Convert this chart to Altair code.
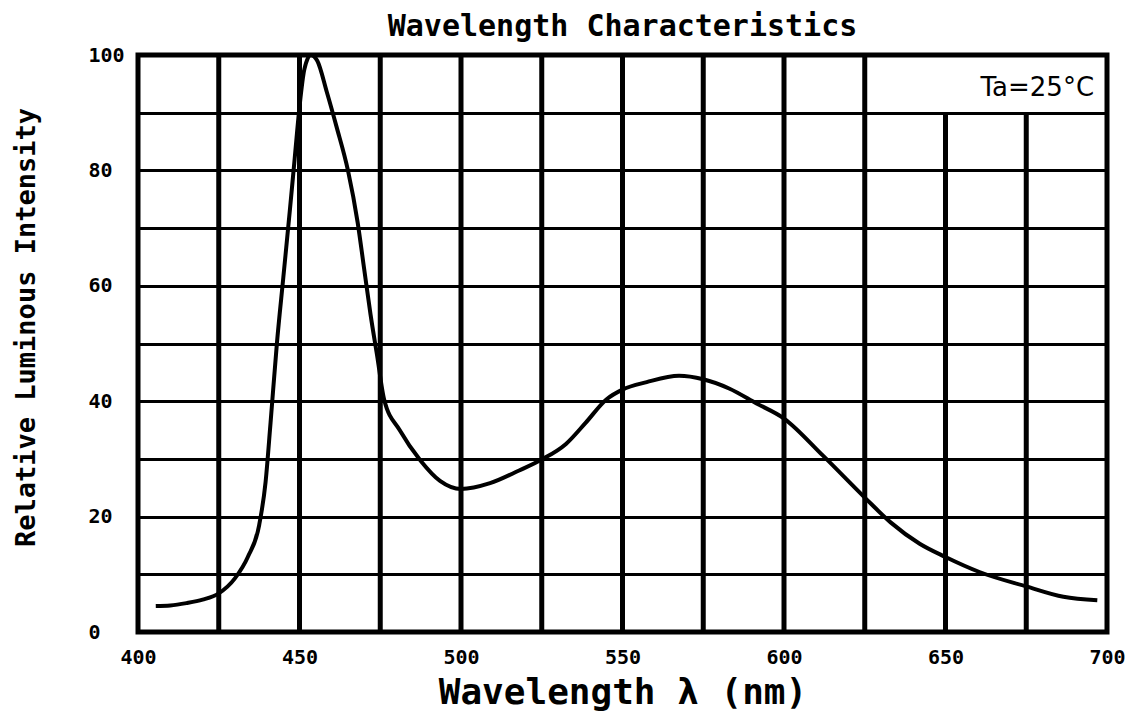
import altair as alt
import pandas as pd

# ---- data ----
wavelength = [405.5, 410, 415, 420, 425, 430, 434, 437.5, 439.5, 441, 443, 445, 447,
              448.5, 450, 451.5, 453.5, 455.5, 458.5, 461.5, 465, 468, 470, 472, 474,
              476.2, 481, 487.5, 493.5, 500, 509, 518, 525, 532.5, 538.5, 545, 550,
              557.5, 567.5, 575, 583, 591.5, 600, 612, 625, 633, 642, 650, 660.5, 675,
              686.5, 697]
intensity = [4.5, 4.6, 5.0, 5.6, 6.7, 9.3, 13.0, 18.5, 26.0, 36.0, 50.0, 61.5, 73.0,
             82.0, 91.0, 97.5, 100.0, 99.0, 93.5, 87.5, 80.0, 71.0, 63.0, 55.0, 48.0,
             40.3, 35.0, 29.7, 26.2, 24.8, 25.8, 28.0, 29.9, 32.6, 36.2, 40.3, 42.0,
             43.3, 44.4, 43.8, 42.2, 39.6, 37.0, 30.6, 23.3, 19.0, 15.3, 13.0, 10.4, 7.9,
             6.1, 5.5]
x_ticks = [400, 425, 450, 475, 500, 525, 550, 575, 600, 625, 650, 675, 700]
x_labels = [400, 450, 500, 550, 600, 650, 700]
y_ticks = [0, 10, 20, 30, 40, 50, 60, 70, 80, 90, 100]
y_labels = [0, 20, 40, 60, 80, 100]
chart_title = "Wavelength Characteristics"
note_text = "Ta=25°C"
legend_box_left = 637.5   # vertical grid lines right of this stop below the note
legend_box_bottom = 90

W, H = 969, 577

curve = pd.DataFrame({"wl": wavelength, "rel": intensity})
inner = x_ticks[1:-1]
vgrid = pd.DataFrame({
    "wl": inner,
    "rel": [0] * len(inner),
    "rel2": [legend_box_bottom if t > legend_box_left else 100 for t in inner],
})

MONO = "DejaVu Sans Mono"
xscale = alt.Scale(domain=[400, 700], nice=False, zero=False)
yscale = alt.Scale(domain=[0, 100], nice=False)

label_expr = "indexof([" + ",".join(str(v) for v in y_labels) + "], datum.value) >= 0 ? datum.label : ''"

xaxis = alt.Axis(
    values=x_labels, grid=False, ticks=False, domain=False,
    labelFont=MONO, labelFontSize=20, labelFontWeight="bold", labelColor="black",
    labelPadding=15, labelFlush=False,
    title="Wavelength λ (nm)", titleFont=MONO, titleFontSize=36, titleFontWeight="bold",
    titleColor="black", titleY=60, titleBaseline="middle")
yaxis = alt.Axis(
    values=y_ticks, grid=True, gridColor="black", gridWidth=3, gridOpacity=1,
    ticks=False, domain=False,
    labelExpr=label_expr,
    labelFont=MONO, labelFontSize=20, labelFontWeight="bold", labelColor="black",
    labelAlign="left", labelBaseline="middle", labelPadding=50, labelFlush=False,
    title="Relative Luminous Intensity", titleFont=MONO, titleFontSize=27,
    titleFontWeight="bold", titleColor="black", titleAngle=270,
    titleX=-112, titleY=272, titleAlign="center", titleBaseline="middle")

rules = alt.Chart(vgrid).mark_rule(color="black", strokeWidth=5).encode(
    x=alt.X("wl:Q", scale=xscale, axis=xaxis),
    y=alt.Y("rel:Q", scale=yscale, axis=yaxis),
    y2="rel2:Q",
)

line = alt.Chart(curve).mark_line(color="black", strokeWidth=4, interpolate="monotone").encode(
    x=alt.X("wl:Q", scale=xscale, axis=xaxis),
    y=alt.Y("rel:Q", scale=yscale, axis=yaxis),
)

note = alt.Chart(pd.DataFrame({"wl": [696], "rel": [94.3]})).mark_text(
    text=note_text, font="DejaVu Sans", fontSize=26, color="black",
    align="right", baseline="middle"
).encode(
    x=alt.X("wl:Q", scale=xscale, axis=xaxis),
    y=alt.Y("rel:Q", scale=yscale, axis=yaxis),
)

title = alt.Chart(pd.DataFrame({"t": [chart_title]})).mark_text(
    font=MONO, fontSize=30, fontWeight="bold", color="black",
    align="center", baseline="alphabetic"
).encode(text="t:N", x=alt.value(W / 2), y=alt.value(-19))

chart = alt.layer(rules, line, note, title).properties(
    width=W, height=H,
    autosize=alt.AutoSizeParams(type="none"),
    padding={"left": 130, "top": 47, "right": 18, "bottom": 84},
    background="white",
).configure_view(stroke="black", strokeWidth=5)

chart.save("out.html", embed_options={"renderer": "svg", "actions": False})
